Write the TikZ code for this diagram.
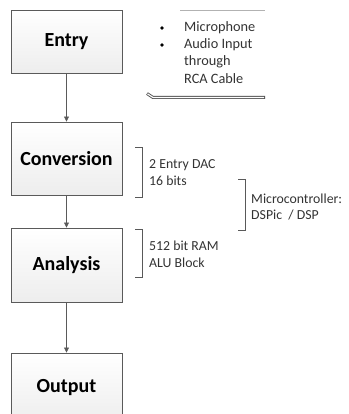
\documentclass[tikz,border=0pt]{standalone}
\usepackage{fontspec}
\setmainfont{Carlito}
\usetikzlibrary{arrows.meta}
\definecolor{boxborder}{HTML}{5A5A5A}
\definecolor{txt}{HTML}{333333}
\tikzset{
  px/.style={x=1pt,y=-1pt},
  block/.style={draw=boxborder, line width=0.9pt, top color=white, bottom color=gray!14,
    minimum width=111pt, inner sep=0pt, font=\fontsize{20}{22}\selectfont\bfseries, text=black},
  flow/.style={draw=boxborder, line width=0.7pt, -{Triangle[length=5pt,width=5pt]}},
  brk/.style={draw=gray!70!black, line width=0.8pt},
  note/.style={font=\fontsize{13.8}{17}\selectfont, text=txt, anchor=west, inner sep=0pt, align=left},
  cnote/.style={font=\fontsize{14.3}{17}\selectfont, text=txt, anchor=west, inner sep=0pt},
}
\begin{document}
\begin{tikzpicture}[px]
\useasboundingbox (0,0) rectangle (348,414);
% blocks
\node[block, minimum height=63pt] (entry) at (66.5,41.5) {Entry};
\node[block, minimum height=73pt] (conv) at (66.5,158.5) {Conversion};
\node[block, minimum height=74pt] (ana) at (66.5,265) {Analysis};
\node[block, minimum height=70pt] (out) at (66.5,388) {Output};
\draw[flow] (entry) -- (conv);
\draw[flow] (conv) -- (ana);
\draw[flow] (ana) -- (out);
% callout for entry
\coordinate (ctl) at (180,11);
\coordinate (ctr) at (265,11);
\draw[gray!60, line width=1pt] (ctl) -- (ctr);
\node[cnote] (b1) at (184,28) {Microphone};
\node[cnote] (b2) at (184,45) {Audio Input};
\node[cnote] (b3) at (184,62) {through};
\node[cnote] (b4) at (184,79) {RCA Cable};
\fill[black] (162,28) circle (1.8pt);
\fill[black] (162,45) circle (1.8pt);
\coordinate (lip) at (147,93.5);
\coordinate (lipb) at (153,97.5);
\coordinate (lipe) at (265,97.5);
\draw[gray!65!black, line width=3pt, line join=round] (lip) -- (lipb) -- (lipe);
\draw[white, line width=1.2pt, line join=round, shorten <=0.6pt, shorten >=0.8pt] (lip) -- (lipb) -- (lipe);
% bracket conversion
\coordinate (c1) at (135,147);
\coordinate (c2) at (142,147);
\coordinate (c3) at (142,197);
\coordinate (c4) at (135,197);
\draw[brk] (c1) -- (c2) -- (c3) -- (c4);
\node[note] (convt) at (149,173) {2 Entry DAC\\16 bits};
% bracket analysis
\coordinate (a1) at (135,229);
\coordinate (a2) at (142,229);
\coordinate (a3) at (142,277);
\coordinate (a4) at (135,277);
\draw[brk] (a1) -- (a2) -- (a3) -- (a4);
\node[note] (anat) at (149,254) {512 bit RAM\\ALU Block};
% bracket microcontroller
\coordinate (m1) at (238,179);
\coordinate (m2) at (245,179);
\coordinate (m3) at (245,230);
\coordinate (m4) at (238,230);
\draw[brk] (m1) -- (m2) -- (m3) -- (m4);
\node[note] (mct) at (251,207) {Microcontroller:\\DSPic \ / DSP};
\end{tikzpicture}
\end{document}
